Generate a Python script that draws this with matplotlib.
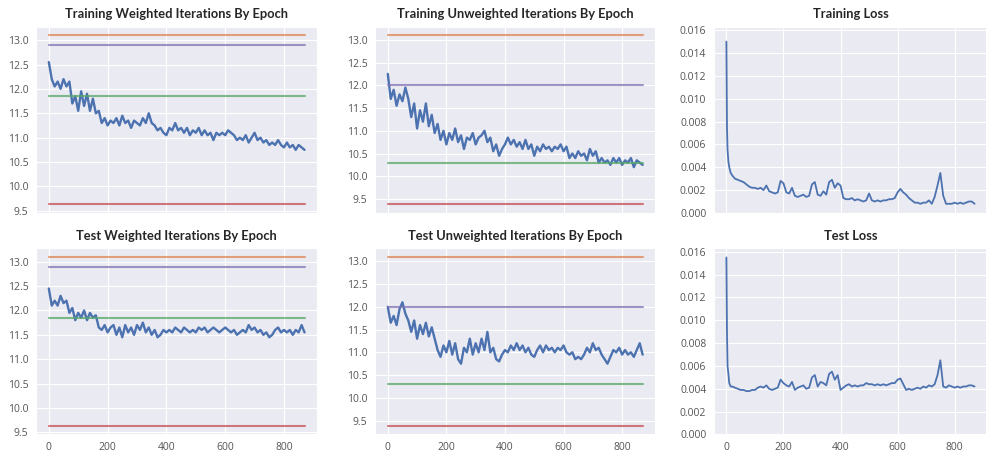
import matplotlib
matplotlib.use("Agg")
import matplotlib.pyplot as plt
import numpy as np
import seaborn as sns

# epochs sampled every 10 for the iteration curves
epochs = list(range(0, 871, 10))
# loss curves need a few more points at the start for the spike
loss_epochs = [0, 2, 4, 7, 10, 15, 20] + list(range(30, 871, 10))

train_weighted = [
    12.55, 12.2, 12.05, 12.15, 12.0, 12.2, 12.05, 12.15, 11.7, 11.85,
    11.55, 11.95, 11.65, 11.9, 11.55, 11.8, 11.5, 11.55, 11.3, 11.4,
    11.25, 11.35, 11.3, 11.4, 11.25, 11.45, 11.3, 11.35, 11.2, 11.35,
    11.3, 11.25, 11.4, 11.3, 11.5, 11.3, 11.25, 11.15, 11.2, 11.1,
    11.05, 11.2, 11.15, 11.3, 11.15, 11.2, 11.1, 11.2, 11.05, 11.15,
    11.1, 11.2, 11.05, 11.15, 11.05, 11.1, 10.95, 11.1, 11.05, 11.1,
    11.05, 11.15, 11.1, 11.05, 10.95, 11.0, 10.95, 11.05, 10.9, 11.0,
    11.1, 10.95, 11.0, 10.9, 10.95, 10.85, 10.9, 10.85, 10.95, 10.85,
    10.8, 10.9, 10.8, 10.85, 10.75, 10.85, 10.8, 10.75]

train_unweighted = [
    12.25, 11.7, 11.9, 11.55, 11.8, 11.65, 11.95, 11.7, 11.3, 11.6,
    11.05, 11.45, 11.2, 11.6, 11.1, 11.35, 10.95, 11.15, 10.8, 11.0,
    10.7, 10.95, 10.8, 11.05, 10.75, 10.9, 10.6, 10.85, 10.8, 10.95,
    10.7, 10.85, 10.9, 11.0, 10.75, 10.85, 10.55, 10.7, 10.45, 10.6,
    10.7, 10.85, 10.7, 10.8, 10.65, 10.75, 10.6, 10.8, 10.6, 10.7,
    10.45, 10.65, 10.55, 10.7, 10.6, 10.65, 10.55, 10.65, 10.6, 10.7,
    10.55, 10.65, 10.4, 10.5, 10.4, 10.55, 10.45, 10.5, 10.35, 10.6,
    10.45, 10.55, 10.3, 10.4, 10.3, 10.35, 10.25, 10.4, 10.3, 10.4,
    10.25, 10.35, 10.3, 10.4, 10.2, 10.35, 10.3, 10.25]

test_weighted = [
    12.45, 12.1, 12.2, 12.1, 12.3, 12.15, 12.2, 11.95, 12.05, 11.8,
    11.95, 11.85, 12.0, 11.8, 11.95, 11.85, 11.9, 11.65, 11.6, 11.7,
    11.55, 11.65, 11.7, 11.5, 11.65, 11.45, 11.7, 11.55, 11.65, 11.5,
    11.7, 11.6, 11.75, 11.55, 11.65, 11.5, 11.6, 11.45, 11.5, 11.6,
    11.55, 11.6, 11.55, 11.65, 11.6, 11.55, 11.65, 11.6, 11.55, 11.6,
    11.55, 11.65, 11.6, 11.65, 11.55, 11.6, 11.65, 11.6, 11.55, 11.6,
    11.65, 11.6, 11.55, 11.6, 11.5, 11.55, 11.6, 11.55, 11.7, 11.6,
    11.65, 11.55, 11.6, 11.5, 11.55, 11.45, 11.5, 11.6, 11.65, 11.55,
    11.6, 11.55, 11.6, 11.5, 11.6, 11.55, 11.7, 11.55]

test_unweighted = [
    12.0, 11.65, 11.8, 11.6, 11.95, 12.1, 11.85, 11.7, 11.45, 11.7,
    11.3, 11.6, 11.4, 11.65, 11.35, 11.55, 11.3, 11.05, 10.9, 11.15,
    11.0, 11.25, 10.95, 11.2, 10.85, 10.75, 11.1, 11.0, 11.3, 10.95,
    11.2, 11.0, 11.3, 11.05, 11.45, 11.0, 11.1, 10.85, 10.8, 10.95,
    11.05, 11.0, 11.15, 11.05, 11.2, 11.05, 11.15, 11.0, 11.1, 10.95,
    10.9, 11.05, 11.15, 11.0, 11.15, 11.05, 11.1, 11.0, 11.1, 11.05,
    11.15, 11.0, 10.95, 11.0, 10.85, 10.9, 10.85, 10.95, 11.1, 11.0,
    11.2, 11.05, 11.1, 10.95, 10.85, 10.75, 10.9, 11.05, 11.0, 11.1,
    10.95, 11.05, 10.95, 11.0, 10.9, 11.05, 11.2, 10.95]

train_loss = [
    0.015, 0.0075, 0.0055, 0.0045, 0.004, 0.0035, 0.0033,
    0.003, 0.0029, 0.0028, 0.0027, 0.0025, 0.0023, 0.0022, 0.0022, 0.0021, 0.0022,
    0.002, 0.0024, 0.0019, 0.0018, 0.0017, 0.0018, 0.0028, 0.0026, 0.0018, 0.0017,
    0.0022, 0.0015, 0.0014, 0.0015, 0.0016, 0.0014, 0.0015, 0.0025, 0.0027, 0.0016,
    0.0015, 0.0019, 0.0016, 0.0027, 0.0029, 0.0022, 0.0026, 0.0024, 0.0013, 0.0012,
    0.0012, 0.0013, 0.0011, 0.0012, 0.0011, 0.001, 0.0011, 0.0017, 0.0011, 0.001,
    0.0011, 0.001, 0.0011, 0.0011, 0.0012, 0.0012, 0.0013, 0.0018, 0.0021, 0.0018,
    0.0016, 0.0013, 0.0011, 0.0009, 0.0009, 0.0008, 0.0009, 0.0009, 0.0011, 0.0008,
    0.0014, 0.0024, 0.0035, 0.0015, 0.0008, 0.0008, 0.0008, 0.0009, 0.0008, 0.0009,
    0.0008, 0.0009, 0.001, 0.001, 0.0008]

test_loss = [
    0.0155, 0.009, 0.006, 0.0053, 0.0045, 0.0042, 0.0042,
    0.0041, 0.004, 0.0039, 0.0039, 0.0038, 0.0038, 0.0039, 0.0039, 0.0041, 0.0042,
    0.0041, 0.0043, 0.004, 0.0039, 0.004, 0.0041, 0.0048, 0.0045, 0.0043, 0.0042,
    0.0046, 0.0039, 0.0041, 0.0042, 0.0043, 0.004, 0.0041, 0.005, 0.0052, 0.0042,
    0.0046, 0.0045, 0.0043, 0.0053, 0.0055, 0.0048, 0.0052, 0.0039, 0.0041, 0.0043,
    0.0044, 0.0042, 0.0043, 0.0042, 0.0043, 0.0043, 0.0045, 0.0044, 0.0044, 0.0043,
    0.0044, 0.0043, 0.0044, 0.0043, 0.0044, 0.0045, 0.0045, 0.0048, 0.0049, 0.0044,
    0.0039, 0.004, 0.0039, 0.004, 0.0041, 0.004, 0.0042, 0.0041, 0.0043, 0.0042,
    0.0044, 0.0052, 0.0065, 0.0042, 0.0041, 0.0043, 0.0042, 0.0041, 0.0042, 0.0041,
    0.0042, 0.0042, 0.0043, 0.0043, 0.0042]

# horizontal reference levels (orange, purple, green, red)
weighted_refs = [13.1, 12.9, 11.85, 9.63]
unweighted_refs = [13.1, 12.0, 10.3, 9.38]
ref_colors = ['#dd8452', '#8172b3', '#55a868', '#c44e52']

sns.set_style('darkgrid')
plt.rcParams['font.family'] = ['Open Sans', 'DejaVu Sans']

fig = plt.figure(figsize=(9.87, 4.54), dpi=100)

lefts = [0.0365, 0.380, 0.7234]
widths = [0.285, 0.284, 0.2766]
bottoms = [0.531, 0.043]
height = 0.41


def iter_panel(ax, y, refs, title, show_x):
    ax.plot(epochs, y, color='#4c72b0', lw=1.7)
    for val, c in zip(refs, ref_colors):
        ax.plot([epochs[0], epochs[-1]], [val, val], color=c, lw=1.5, alpha=0.75)
    ax.set_title(title, fontsize=9.3, fontweight='bold', family='Lato', pad=6)
    ax.set_xticks([0, 200, 400, 600, 800])
    ax.set_yticks(np.arange(9.5, 13.01, 0.5))
    ax.yaxis.set_major_formatter(matplotlib.ticker.FormatStrFormatter('%.1f'))
    ax.tick_params(labelsize=7.5, colors='#555555', labelbottom=show_x, pad=2)


def loss_panel(ax, y, title, show_x):
    ax.plot(loss_epochs, y, color='#4c72b0', lw=1.3)
    ax.set_ylim(0, 0.0163)
    ax.set_yticks(np.arange(0, 0.0161, 0.002))
    ax.yaxis.set_major_formatter(matplotlib.ticker.FormatStrFormatter('%.3f'))
    ax.set_title(title, fontsize=9.3, fontweight='bold', family='Lato', pad=6)
    ax.set_xticks([0, 200, 400, 600, 800])
    ax.tick_params(labelsize=7.5, colors='#555555', labelbottom=show_x, pad=2)


axes = [[fig.add_axes([lefts[c], bottoms[r], widths[c], height]) for c in range(3)] for r in range(2)]

iter_panel(axes[0][0], train_weighted, weighted_refs, 'Training Weighted Iterations By Epoch', False)
iter_panel(axes[0][1], train_unweighted, unweighted_refs, 'Training Unweighted Iterations By Epoch', False)
loss_panel(axes[0][2], train_loss, 'Training Loss', False)
iter_panel(axes[1][0], test_weighted, weighted_refs, 'Test Weighted Iterations By Epoch', True)
iter_panel(axes[1][1], test_unweighted, unweighted_refs, 'Test Unweighted Iterations By Epoch', True)
loss_panel(axes[1][2], test_loss, 'Test Loss', True)

for row in axes:
    for a in row:
        a.set_xlim(-43.5, 913.5)

fig.savefig('out.png', dpi=100)
